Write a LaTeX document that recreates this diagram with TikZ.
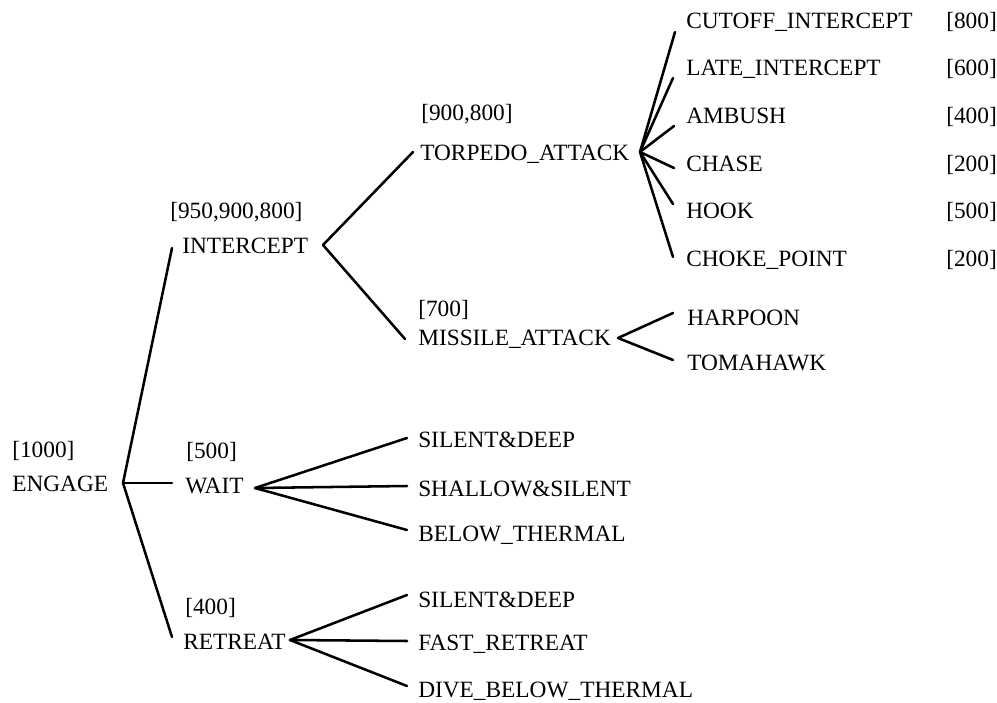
\documentclass[tikz,border=0pt]{standalone}
\usepackage{fontspec}
\setmainfont{Liberation Serif}
\begin{document}
\begin{tikzpicture}[x=0.75pt,y=-0.75pt,
  lbl/.style={anchor=base west, inner sep=0pt, font=\fontsize{17.5}{20}\selectfont},
  edge/.style={line width=1.9pt, line cap=round, line join=round}]
\useasboundingbox (0,0) rectangle (997,703);
% ---- labels (x, caps-centre y + 8) ----
\node[lbl] (b1000) at (12,457) {[1000]};
\node[lbl] (engage) at (12,491) {ENGAGE};
\node[lbl] (b950) at (170,218) {[950,900,800]};
\node[lbl] (intercept) at (182,253) {INTERCEPT};
\node[lbl] (b900) at (421,120) {[900,800]};
\node[lbl] (torpedo) at (420,160) {TORPEDO\_ATTACK};
\node[lbl] (b700) at (418,316) {[700]};
\node[lbl] (missile) at (418,345) {MISSILE\_ATTACK};
\node[lbl] (b500) at (186,458) {[500]};
\node[lbl] (wait) at (185,493) {WAIT};
\node[lbl] (b400) at (185,614) {[400]};
\node[lbl] (retreat) at (183,649) {RETREAT};
\node[lbl] (cutoff) at (686,28) {CUTOFF\_INTERCEPT};
\node[lbl] (late) at (686,75) {LATE\_INTERCEPT};
\node[lbl] (ambush) at (686,123) {AMBUSH};
\node[lbl] (chase) at (686,171) {CHASE};
\node[lbl] (hook) at (686,218) {HOOK};
\node[lbl] (choke) at (686,266) {CHOKE\_POINT};
\node[lbl] (v1) at (946,28) {[800]};
\node[lbl] (v2) at (946,75) {[600]};
\node[lbl] (v3) at (946,123) {[400]};
\node[lbl] (v4) at (946,171) {[200]};
\node[lbl] (v5) at (946,218) {[500]};
\node[lbl] (v6) at (946,266) {[200]};
\node[lbl] (harpoon) at (687,325) {HARPOON};
\node[lbl] (tomahawk) at (687,370) {TOMAHAWK};
\node[lbl] (wsilent) at (418,447) {SILENT\&DEEP};
\node[lbl] (shallow) at (418,496) {SHALLOW\&SILENT};
\node[lbl] (below) at (418,541) {BELOW\_THERMAL};
\node[lbl] (rsilent) at (418,607) {SILENT\&DEEP};
\node[lbl] (fast) at (418,650) {FAST\_RETREAT};
\node[lbl] (dive) at (418,697) {DIVE\_BELOW\_THERMAL};
% ---- branch points ----
\coordinate (engageA) at (123,483);
\coordinate (interceptA) at (323,245);
\coordinate (torpedoA) at (640,152);
\coordinate (missileA) at (618,338);
\coordinate (waitA) at (255,488);
\coordinate (retreatA) at (290,640);
% ---- connector ends ----
\coordinate (interceptE) at (172,248);
\coordinate (waitE) at (172,483);
\coordinate (retreatE) at (172,637);
\coordinate (torpedoE) at (413,152);
\coordinate (missileE) at (405,339);
\coordinate (cutoffE) at (675,32);
\coordinate (lateE) at (673,78);
\coordinate (ambushE) at (674,126);
\coordinate (chaseE) at (674,168);
\coordinate (hookE) at (673,204);
\coordinate (chokeE) at (673,257);
\coordinate (harpoonE) at (673,313);
\coordinate (tomahawkE) at (673,360);
\coordinate (wsilentE) at (407,438);
\coordinate (shallowE) at (407,486);
\coordinate (belowE) at (407,530);
\coordinate (rsilentE) at (407,595);
\coordinate (fastE) at (407,641);
\coordinate (diveE) at (407,686);
% ---- connectors ----
\draw[edge] (interceptE) -- (engageA) -- (retreatE);
\draw[edge] (engageA) -- (waitE);
\draw[edge] (torpedoE) -- (interceptA) -- (missileE);
\foreach \c in {cutoffE,lateE,ambushE,chaseE,hookE,chokeE}
  \draw[edge] (torpedoA) -- (\c);
\draw[edge] (harpoonE) -- (missileA) -- (tomahawkE);
\foreach \c in {wsilentE,shallowE,belowE}
  \draw[edge] (waitA) -- (\c);
\foreach \c in {rsilentE,fastE,diveE}
  \draw[edge] (retreatA) -- (\c);
\end{tikzpicture}
\end{document}
